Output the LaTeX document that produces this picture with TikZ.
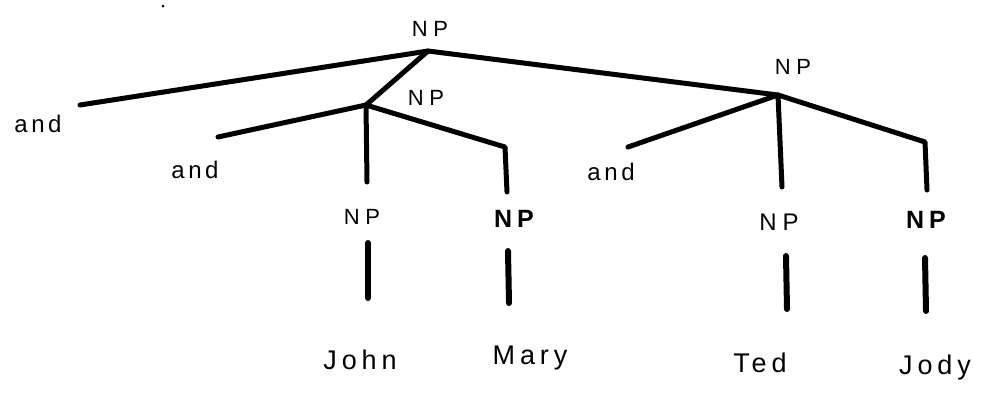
\documentclass[tikz,border=0pt]{standalone}
\usepackage{fontspec}
\setmainfont{Liberation Sans}
\begin{document}
\begin{tikzpicture}[x=1pt,y=-1pt,
  branch/.style={line width=5pt,line cap=round,line join=round},
  leafline/.style={line width=6pt,line cap=round},
  cat/.style={inner sep=0pt,font=\fontsize{22}{22}\selectfont\addfontfeature{LetterSpace=25}},
  catb/.style={inner sep=0pt,font=\fontsize{25}{25}\selectfont\bfseries\addfontfeature{LetterSpace=20}},
  word/.style={inner sep=0pt,font=\fontsize{27}{27}\selectfont\addfontfeature{LetterSpace=18}},
  conj/.style={inner sep=0pt,font=\fontsize{24}{24}\selectfont\addfontfeature{LetterSpace=15}}]
\useasboundingbox (0,0) rectangle (987,405);
% junctions and free ends
\coordinate (root) at (428,51);
\coordinate (np1) at (366,105);
\coordinate (np2) at (778,95);
\coordinate (a1end) at (80,105);
\coordinate (a2end) at (218,137);
\coordinate (a3end) at (628,147);
\coordinate (c1) at (367,182);
\coordinate (k2) at (505,147);
\coordinate (c2) at (507,192);
\coordinate (c3) at (782,187);
\coordinate (k4) at (925,142);
\coordinate (c4) at (927,190);
\coordinate (t1) at (368,243);
\coordinate (b1) at (368,298);
\coordinate (t2) at (508,251);
\coordinate (b2) at (509,303);
\coordinate (t3) at (786,256);
\coordinate (b3) at (787,309);
\coordinate (t4) at (925,258);
\coordinate (b4) at (926,311);
% labels
\node[cat] (lroot) at (430,29) {NP};
\node[cat] (lnp1) at (426,98) {NP};
\node[cat] (lnp2) at (793,67) {NP};
\node[conj] (and1) at (38,124) {and};
\node[conj] (and2) at (195,170) {and};
\node[conj] (and3) at (611,172) {and};
\node[cat] (n1) at (362,217) {NP};
\node[catb] (n2) at (514,219) {NP};
\node[cat,font=\fontsize{24}{24}\selectfont\addfontfeature{LetterSpace=25}] (n3) at (779,222) {NP};
\node[catb] (n4) at (926,220) {NP};
\node[word] (w1) at (360,360) {John};
\node[word] (w2) at (530,358) {Mary};
\node[word] (w3) at (760,363) {Ted};
\node[word] (w4) at (935,368) {Jody};
% top dot
\fill (163,6) circle (1.5);
% branches
\draw[branch] (a1end) -- (root) -- (np2);
\draw[branch] (root) -- (np1);
\draw[branch] (a2end) -- (np1) -- (c1);
\draw[branch] (np1) -- (k2) -- (c2);
\draw[branch] (a3end) -- (np2) -- (c3);
\draw[branch] (np2) -- (k4) -- (c4);
% leaf lines
\draw[leafline] (t1) -- (b1);
\draw[leafline] (t2) -- (b2);
\draw[leafline] (t3) -- (b3);
\draw[leafline] (t4) -- (b4);
\end{tikzpicture}
\end{document}
